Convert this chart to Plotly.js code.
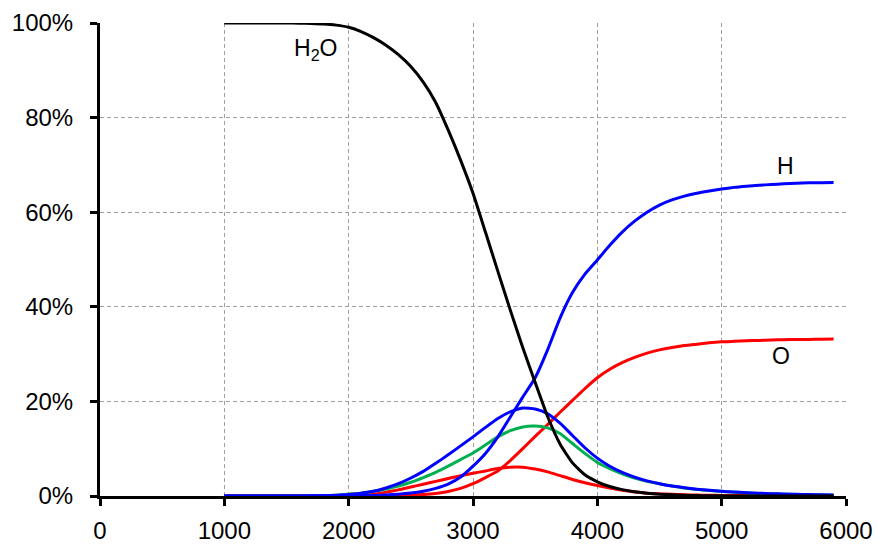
<!DOCTYPE html>
<html>
<head>
<meta charset="utf-8">
<script src="https://cdn.plot.ly/plotly-3.0.1.min.js"></script>
<style>html,body{margin:0;padding:0;background:#fff;}#chart{width:877px;height:544px;}</style>
</head>
<body>
<div id="chart"></div>
<script>
// Temperature (K)
const temperature = [1000,1100,1200,1300,1400,1500,1600,1700,1800,1900,
  2000,2100,2200,2300,2400,2500,2600,2700,2800,2900,
  3000,3100,3200,3300,3400,3500,3600,3700,3800,3900,
  4000,4100,4200,4300,4400,4500,4600,4700,4800,4900,
  5000,5100,5200,5300,5400,5500,5600,5700,5800,5900];

// Mole fractions (%)
const h2o = [100,100,100,100,100,99.99,99.97,99.92,99.8,99.55,
  99.1,98.2,96.9,95.3,93.3,90.8,87.5,83.2,77.4,71.0,
  64.0,55.8,47.5,39.3,31.4,24.0,16.8,11.0,7.0,4.5,
  3.0,2.0,1.35,0.9,0.6,0.38,0.24,0.15,0.09,0.05,
  0.03,0.02,0.01,0,0,0,0,0,0,0];
const hAtom = [0,0,0,0,0,0,0,0,0,0.01,
  0.03,0.06,0.12,0.22,0.38,0.62,1.0,1.6,2.5,4.0,
  6.3,9.0,12.5,16.7,20.9,25.0,30.9,37.6,43.0,46.9,
  49.9,53.0,55.8,58.1,60.0,61.5,62.6,63.4,64.0,64.5,
  64.9,65.25,65.5,65.7,65.85,66.0,66.1,66.2,66.25,66.3];
const h2 = [0,0,0,0,0,0,0.01,0.03,0.07,0.15,
  0.3,0.6,1.0,1.7,2.6,3.8,5.2,6.9,8.7,10.6,
  12.5,14.5,16.4,17.8,18.6,18.4,17.4,15.4,12.8,10.2,
  8.0,6.3,5.0,4.0,3.2,2.6,2.1,1.75,1.45,1.2,
  1.0,0.85,0.7,0.6,0.5,0.42,0.35,0.3,0.25,0.2];
const oh = [0,0,0,0,0,0,0.01,0.03,0.07,0.18,
  0.4,0.6,1.0,1.5,2.1,2.9,3.9,5.0,6.3,7.7,
  9.1,10.8,12.5,13.8,14.6,14.8,14.4,13.2,11.1,9.0,
  7.1,5.8,4.7,3.8,3.1,2.6,2.1,1.7,1.4,1.15,
  0.95,0.8,0.65,0.55,0.45,0.38,0.32,0.27,0.22,0.18];
const o2 = [0,0,0,0,0,0,0,0.01,0.02,0.05,
  0.1,0.2,0.4,0.8,1.3,1.9,2.5,3.1,3.7,4.3,
  4.8,5.3,5.8,6.1,6.1,5.7,5.1,4.3,3.5,2.8,
  2.2,1.7,1.2,0.85,0.6,0.45,0.35,0.25,0.2,0.15,
  0.12,0.1,0.08,0.07,0.06,0.05,0.05,0.05,0.05,0.05];
const oAtom = [0,0,0,0,0,0,0,0,0,0,
  0,0.01,0.02,0.04,0.08,0.15,0.3,0.55,0.95,1.6,
  2.6,3.9,5.3,7.5,10.0,12.6,15.1,17.7,20.2,22.7,
  25.0,26.8,28.2,29.3,30.2,30.9,31.4,31.8,32.1,32.4,
  32.6,32.7,32.8,32.9,33.0,33.05,33.1,33.1,33.15,33.2];

const xTicks = [0,1000,2000,3000,4000,5000,6000];
const yTicks = [0,20,40,60,80,100];

const lbl = [
  {text:'H<sub>2</sub>O', x:1730, y:94.5},
  {text:'H', x:5510, y:69.8},
  {text:'O', x:5480, y:29.5}
];

const font = 'Liberation Sans, Arial, sans-serif';
function tr(y, color){
  return {x: temperature, y: y, type:'scatter', mode:'lines',
    line:{color:color, width:3, shape:'spline', smoothing:0.5}, hoverinfo:'skip'};
}
const data = [tr(o2,'#ff0000'), tr(oAtom,'#ff0000'), tr(oh,'#00b050'),
  tr(h2,'#0000ff'), tr(hAtom,'#0000ff'), tr(h2o,'#000000')];

const layout = {
  width:877, height:544,
  margin:{l:100, r:31, t:23, b:48},
  paper_bgcolor:'#fff', plot_bgcolor:'#fff',
  showlegend:false,
  font:{family:font, size:24, color:'#000'},
  xaxis:{range:[0,6000], tickvals:xTicks, ticktext:xTicks.map(String),
    showline:true, linecolor:'#000', linewidth:3,
    ticks:'outside', ticklen:7, tickwidth:3, tickcolor:'#000',
    showgrid:true, gridcolor:'#a0a0a0', gridwidth:1, griddash:'4px,3px',
    zeroline:false, ticklabelstandoff:4, fixedrange:true},
  yaxis:{range:[0,100], tickvals:yTicks, ticktext:yTicks.map(v=>v+'%'),
    showline:true, linecolor:'#000', linewidth:3,
    ticks:'outside', ticklen:7, tickwidth:3, tickcolor:'#000',
    showgrid:true, gridcolor:'#a0a0a0', gridwidth:1, griddash:'4px,3px',
    zeroline:false, ticklabelstandoff:12, fixedrange:true},
  annotations: lbl.map(a=>({text:a.text, x:a.x, y:a.y, xref:'x', yref:'y',
    showarrow:false, font:{family:font, size:23, color:'#000'}}))
};
Plotly.newPlot('chart', data, layout, {displayModeBar:false, staticPlot:true});
</script>
</body>
</html>
